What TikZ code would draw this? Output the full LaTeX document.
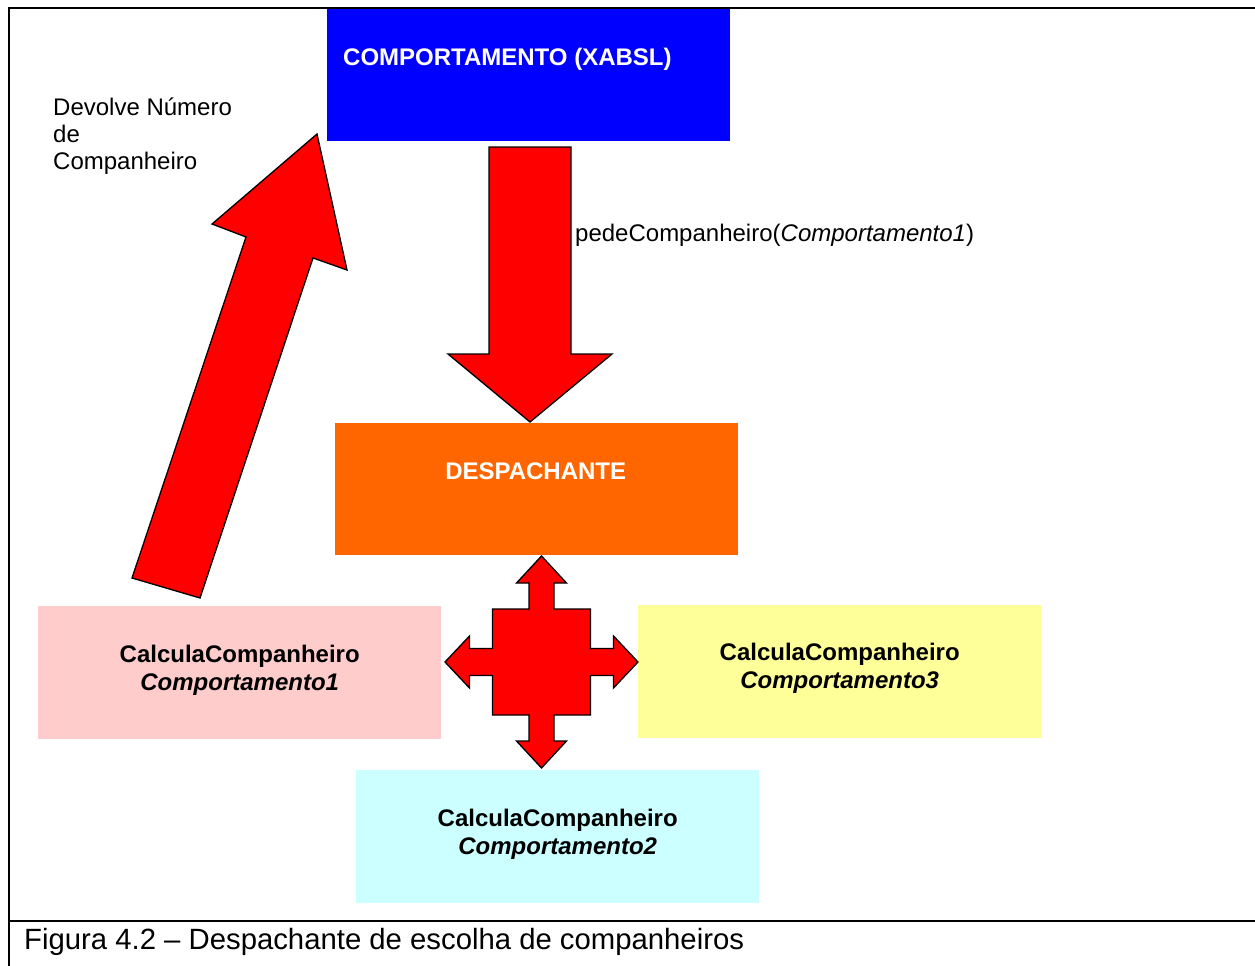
\documentclass[tikz,border=0pt]{standalone}
\usepackage{fontspec}
\setmainfont{Liberation Sans}
\usetikzlibrary{positioning,calc}
\definecolor{azul}{RGB}{0,0,255}
\definecolor{laranja}{RGB}{255,102,0}
\definecolor{vermelho}{RGB}{255,0,0}
\definecolor{rosa}{RGB}{255,204,204}
\definecolor{amarelo}{RGB}{255,255,153}
\definecolor{ciano}{RGB}{204,255,255}
\tikzstyle{caixa} = [rectangle, minimum width=403pt, minimum height=133pt, anchor=north west, inner sep=0pt]
\tikzstyle{rotulo} = [font=\fontsize{24}{28}\selectfont\bfseries, align=center]
\tikzstyle{texto} = [font=\fontsize{24}{27}\selectfont, align=left, inner sep=0pt]
\tikzstyle{seta} = [draw=black, line width=1.3pt, fill=vermelho, line join=miter]

\begin{document}
\begin{tikzpicture}[x=1pt, y=-1pt]
        \useasboundingbox (0,0) rectangle (1255,966);
        % Moldura
        \draw [line width=1.5pt] (1255,8) -- (9,8) -- (9,966);
        \draw [line width=1.5pt] (9,921) -- (1255,921);

        % Blocos
        \node (comp) [caixa, fill=azul, minimum height=132pt] at (327,9) {};
        \node (desp) [caixa, fill=laranja, minimum height=132pt] at (335,423) {};
        \node (calc1) [caixa, fill=rosa] at (38,606) {};
        \node (calc3) [caixa, fill=amarelo] at (638,605) {};
        \node (calc2) [caixa, fill=ciano] at (356,770) {};

        \node (comptxt) [rotulo, white, anchor=west, inner sep=0pt] at ($(comp.north west)+(16,50)$) {COMPORTAMENTO (XABSL)};
        \node (desptxt) [rotulo, white] at ($(desp.north)+(-1,48)$) {DESPACHANTE};
        \node (calc1txt) [rotulo] at ($(calc1.center)+(0,-2)$) {CalculaCompanheiro\\\itshape Comportamento1};
        \node (calc3txt) [rotulo] at ($(calc3.center)+(0,-3)$) {CalculaCompanheiro\\\itshape Comportamento3};
        \node (calc2txt) [rotulo] at ($(calc2.center)+(0,-2.5)$) {CalculaCompanheiro\\\itshape Comportamento2};

        % Setas
        \draw [seta] (489,147) -- (571,147) -- (571,354) -- (612,354) -- (530,422) -- (448,354) -- (489,354) -- cycle;
        \draw [seta] (132,578) -- (200,598) -- (313,258) -- (347,270) -- (317,134) -- (212,224) -- (246,237) -- cycle;
        \coordinate (cruz) at (541.5,662);
        \draw [seta, shift={(cruz)}] (0,-106) -- (25,-79) -- (12.5,-79) -- (12.5,-53) -- (49,-53) -- (49,-13.5)
            -- (72,-13.5) -- (72,-26) -- (96.5,0) -- (72,26) -- (72,13.5) -- (49,13.5) -- (49,53) -- (12.5,53)
            -- (12.5,79) -- (25,79) -- (0,106) -- (-25,79) -- (-12.5,79) -- (-12.5,53) -- (-49,53) -- (-49,13.5)
            -- (-72,13.5) -- (-72,26) -- (-96.5,0) -- (-72,-26) -- (-72,-13.5) -- (-49,-13.5) -- (-49,-53)
            -- (-12.5,-53) -- (-12.5,-79) -- (-25,-79) -- cycle;

        % Legendas
        \node (devolve) [texto, anchor=north west] at (53,98) {Devolve Número\\de\\Companheiro};
        \node (pede) [texto, anchor=west] at (575,235) {pedeCompanheiro(\textit{Comportamento1})};
        \node (figura) [font=\fontsize{29.3}{33}\selectfont, anchor=west, inner sep=0pt] at (24,942) {Figura 4.2 – Despachante de escolha de companheiros};
    \end{tikzpicture}
\end{document}
